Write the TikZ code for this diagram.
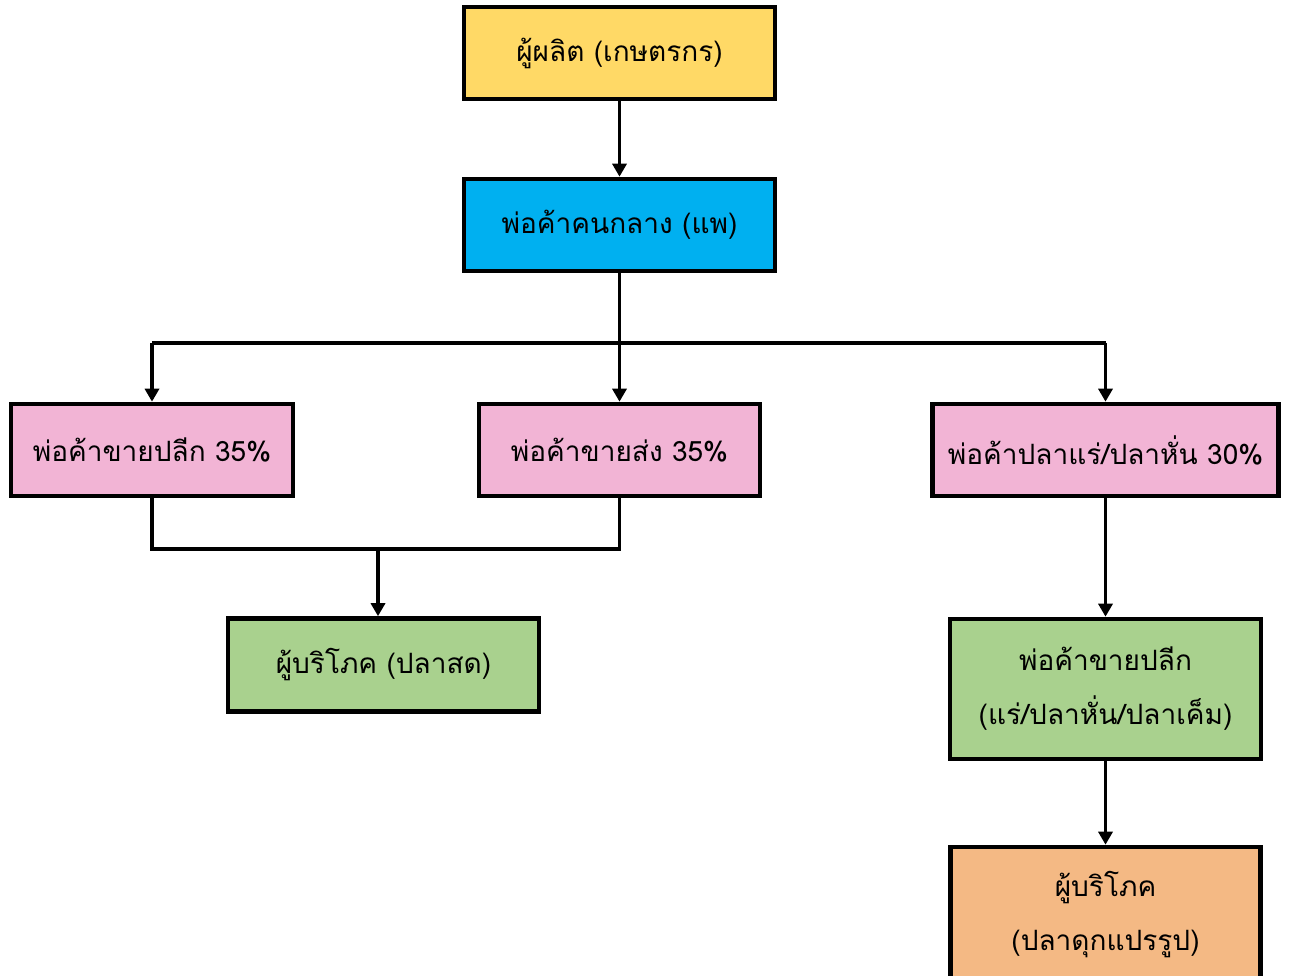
\documentclass[tikz,border=0pt]{standalone}
\usepackage{fontspec}
\newfontfamily\thaifont[Script=Thai]{Loma}
\usetikzlibrary{arrows.meta}

\definecolor{prodyellow}{HTML}{FFD966}
\definecolor{midblue}{HTML}{00B0F0}
\definecolor{tradepink}{HTML}{F2B4D5}
\definecolor{buygreen}{HTML}{A9D18E}
\definecolor{procorange}{HTML}{F4B984}

\tikzset{
  box/.style={draw, line width=2.3pt, align=center, inner sep=0pt,
    font=\thaifont\fontsize{14}{27}\selectfont},
  link/.style={line width=1.8pt},
  arr/.style={link, -{Triangle[width=7pt,length=6.5pt]}}
}

\begin{document}
\begin{tikzpicture}[x=0.5pt,y=-0.5pt]
\useasboundingbox (0,0) rectangle (1289,975);
\clip (0,0) rectangle (1289,975);

\node[box, fill=prodyellow, minimum width=155.5pt, minimum height=46pt] (prod) at (619.5,53) {ผู้ผลิต (เกษตรกร)};
\node[box, fill=midblue, minimum width=155.5pt, minimum height=46pt] (mid) at (619.5,225) {พ่อค้าคนกลาง (แพ)};

\node[box, fill=tradepink, minimum width=141pt, minimum height=46pt] (retail) at (152,450) {พ่อค้าขายปลีก 35\%};
\node[box, fill=tradepink, minimum width=140.5pt, minimum height=46pt] (whole) at (619.5,450) {พ่อค้าขายส่ง 35\%};
\node[box, fill=tradepink, minimum width=173pt, minimum height=46pt] (dried) at (1105.5,450) {พ่อค้าปลาแร่/ปลาหั่น 30\%};

\node[box, fill=buygreen, minimum width=155.5pt, minimum height=46.5pt] (cfresh) at (383.5,665) {ผู้บริโภค (ปลาสด)};
\node[box, fill=buygreen, minimum width=155.5pt, minimum height=70pt] (dretail) at (1105.5,689) {พ่อค้าขายปลีก\\(แร่/ปลาหั่น/ปลาเค็ม)};
\node[box, fill=procorange, minimum width=155pt, minimum height=68pt] (cproc) at (1105.5,915) {ผู้บริโภค\\(ปลาดุกแปรรูป)};

\coordinate (jm) at (619.5,343);
\coordinate (jl) at (152,343);
\coordinate (jr) at (1105.5,343);
\coordinate (jb) at (378,549);

\draw[arr] (prod) -- (mid);
\draw[link] (mid.south) -- (jm);
\draw[link] (jl) -- (jr);
\path
(jl) edge[arr] (retail.north)
(jm) edge[arr] (whole.north)
(jr) edge[arr] (dried.north)
;
\draw[link] (retail.south) |- (jb) -| (whole.south);
\draw[arr] (jb) -- (jb |- cfresh.north);
\draw[arr] (dried) -- (dretail);
\draw[arr] (dretail) -- (cproc);
\end{tikzpicture}
\end{document}
